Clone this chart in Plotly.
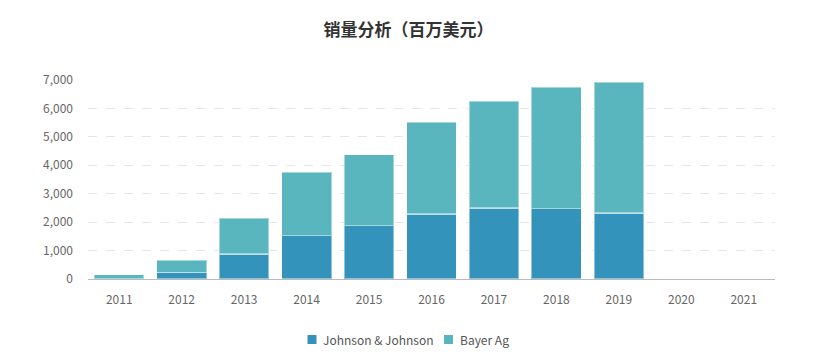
import plotly.graph_objects as go

years = ["2011", "2012", "2013", "2014", "2015", "2016", "2017", "2018", "2019", "2020", "2021"]
jnj = [15, 232, 877, 1525, 1877, 2289, 2502, 2477, 2316, None, None]
bayer = [136, 421, 1257, 2243, 2500, 3241, 3754, 4281, 4607, None, None]
y_ticks = [0, 1000, 2000, 3000, 4000, 5000, 6000, 7000]
series_names = ["Johnson & Johnson", "Bayer Ag"]
series_colors = ["#3493bb", "#59b6bf"]

font_family = "Noto Sans CJK SC, Noto Sans, sans-serif"

fig = go.Figure()
for name, vals, col in zip(series_names, [jnj, bayer], series_colors):
    fig.add_trace(go.Bar(
        name=name, x=years, y=vals, showlegend=False,
        marker=dict(color=col, line=dict(color="rgba(255,255,255,0.45)", width=1.5)),
    ))

# custom legend (compact squares + labels) below the plot
legend_sq_x = [(0.3195, 0.3326), (0.5182, 0.5313)]
legend_tx_x = [0.3385, 0.5379]
for (x0, x1), tx, name, col in zip(legend_sq_x, legend_tx_x, series_names, series_colors):
    fig.add_shape(type="rect", xref="paper", yref="paper",
                  x0=x0, x1=x1, y0=-0.3266, y1=-0.2814,
                  fillcolor=col, line=dict(width=0))
    fig.add_annotation(xref="paper", yref="paper", x=tx, y=-0.304,
                       xanchor="left", yanchor="middle", showarrow=False,
                       text=name, font=dict(size=12, color="#555555", family=font_family))

fig.update_layout(
    barmode="stack",
    bargap=0.2,
    width=817, height=352,
    margin=dict(l=88, r=42, t=80, b=73, autoexpand=False),
    paper_bgcolor="white",
    plot_bgcolor="white",
    font=dict(family=font_family, size=12, color="#666666"),
    title=dict(
        text="<b>销量分析（百万美元）</b>",
        x=0.5, xanchor="center", y=0.915, yanchor="middle",
        font=dict(size=17, color="#333333", family=font_family),
    ),
    showlegend=False,
    xaxis=dict(
        type="category",
        showline=True, linecolor="#bbbbbb", linewidth=1,
        showgrid=False, ticks="",
        ticklabelstandoff=10,
        tickfont=dict(size=12, color="#666666"),
    ),
    yaxis=dict(
        range=[0, 7000],
        tickvals=y_ticks,
        tickformat=",d",
        showgrid=True, gridcolor="#e6e6e6", griddash="dash", gridwidth=1,
        zeroline=False, showline=False, ticks="",
        ticklabelstandoff=14,
        tickfont=dict(size=12, color="#666666"),
    ),
)

fig.write_html("out.html")
